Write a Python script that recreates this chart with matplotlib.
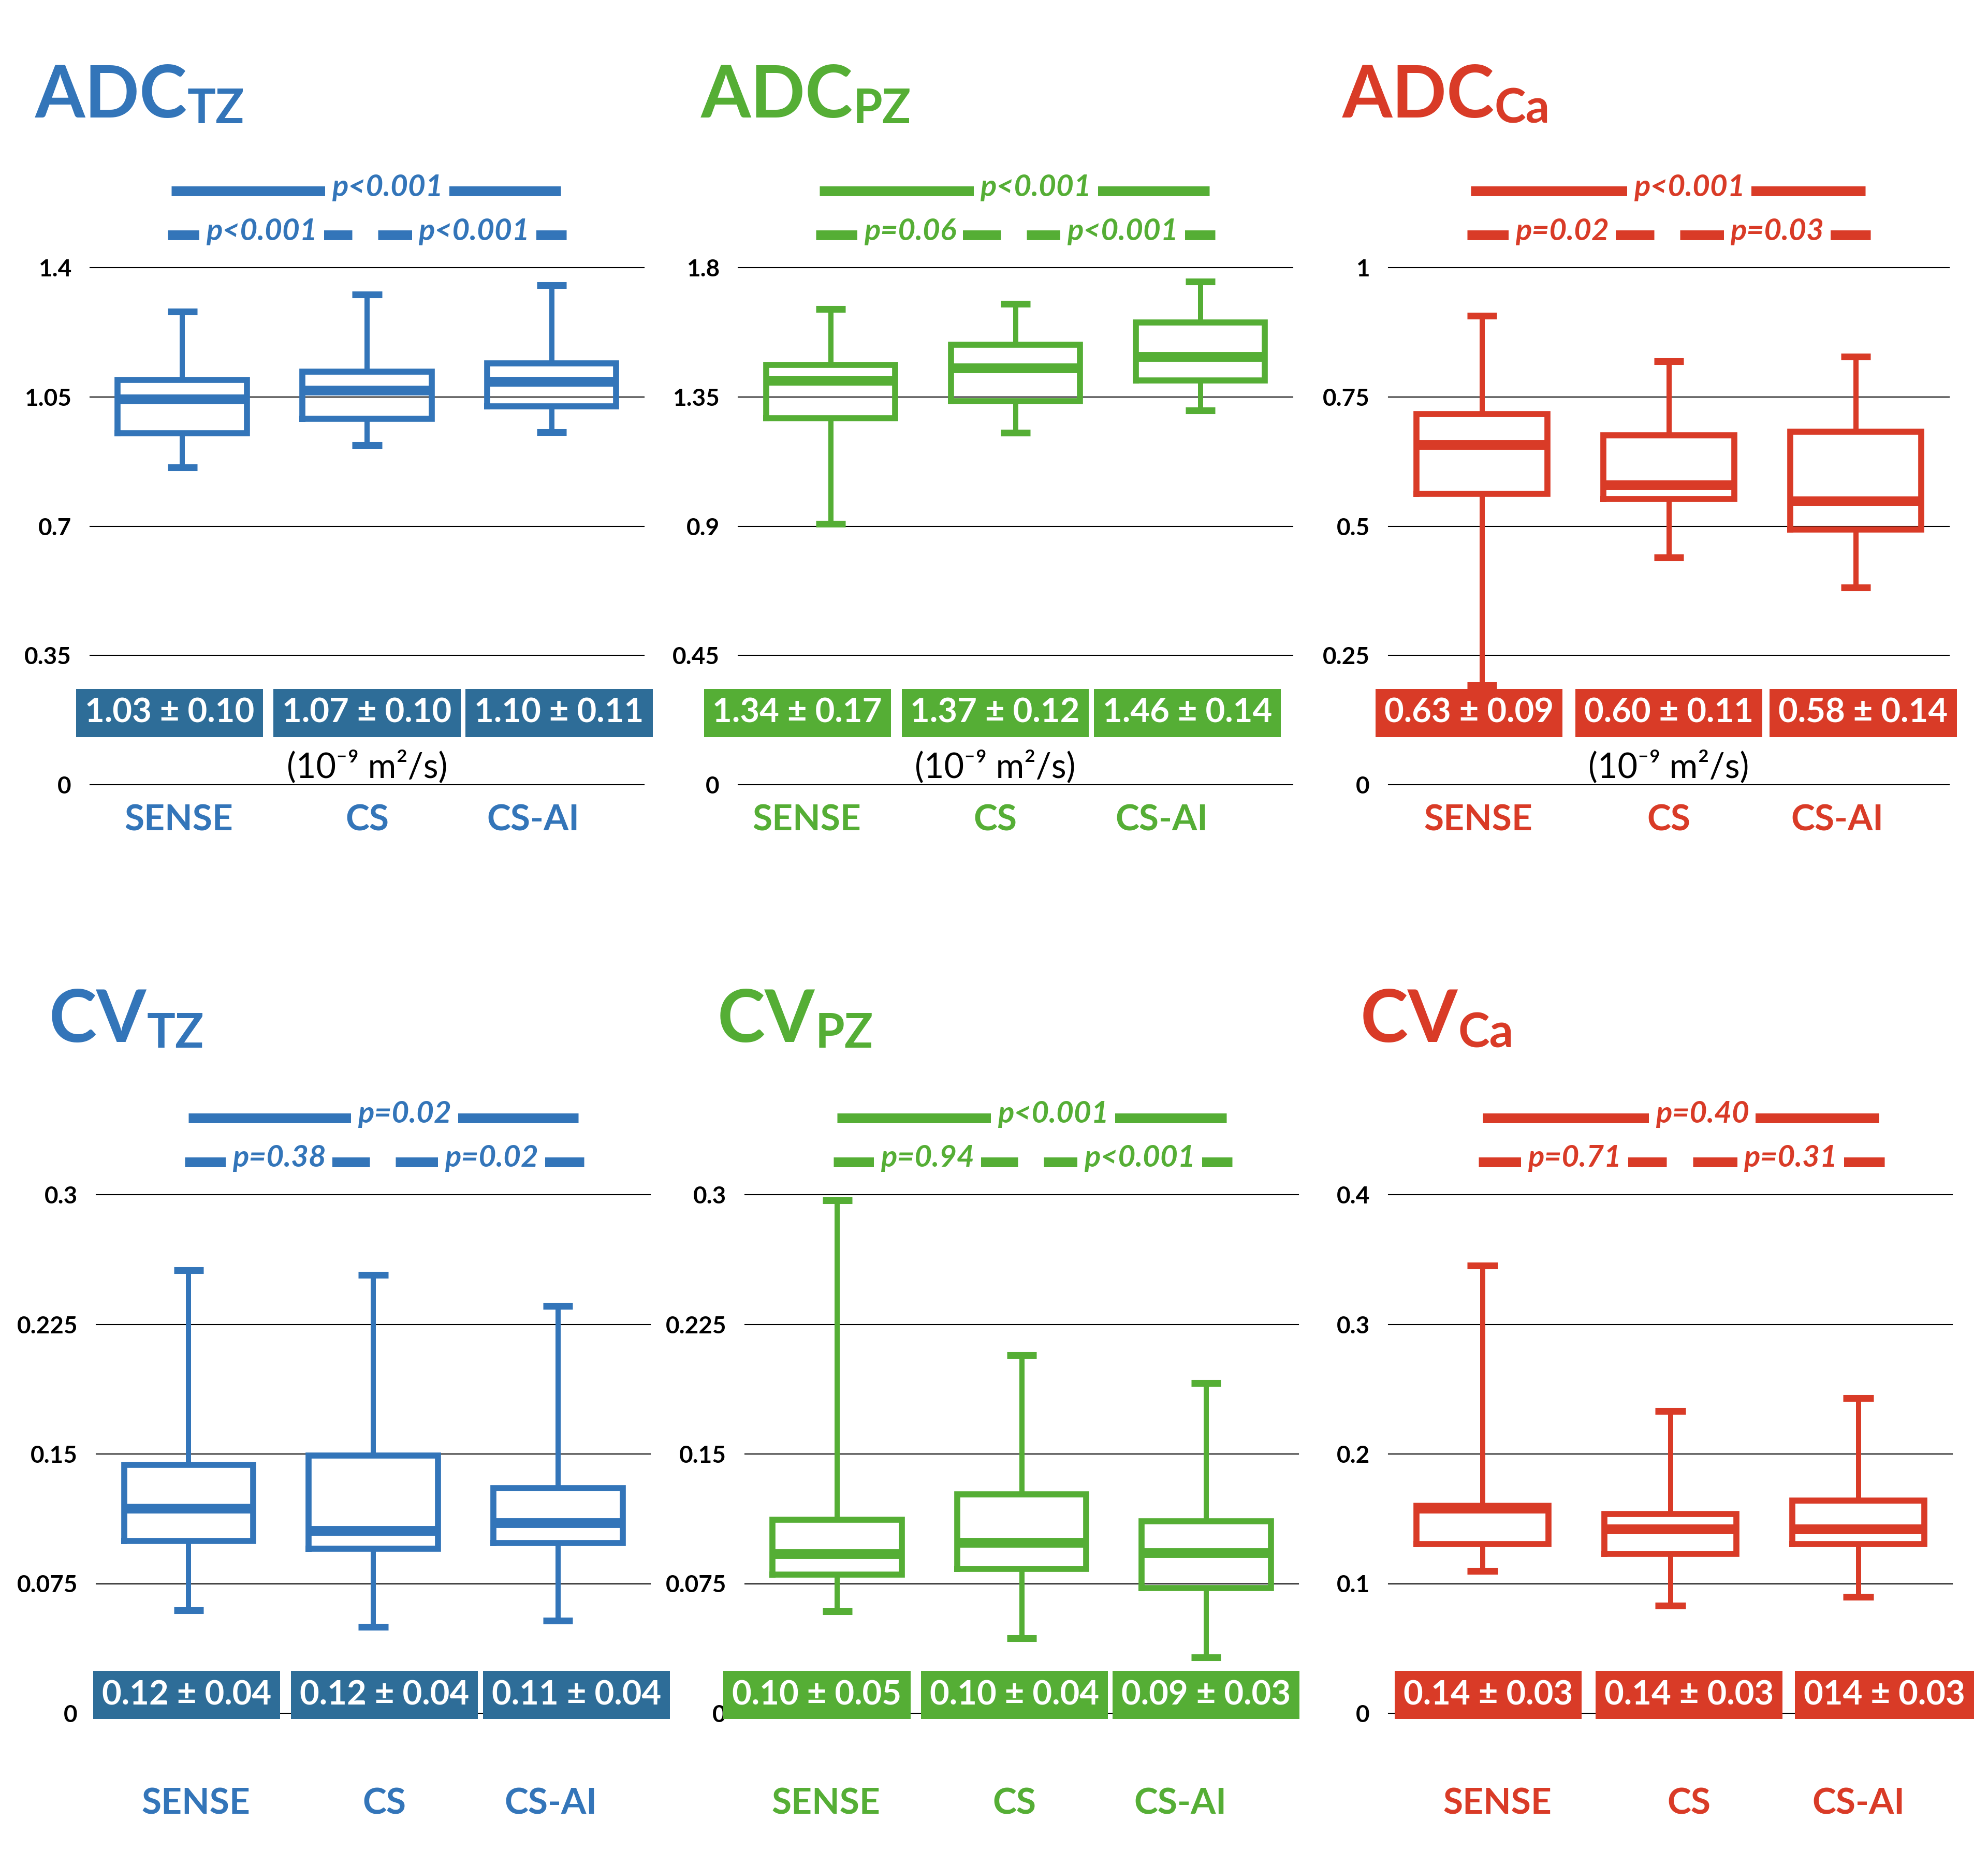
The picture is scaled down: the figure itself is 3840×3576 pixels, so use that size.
import matplotlib
matplotlib.use('agg')
import matplotlib.pyplot as plt
import matplotlib.transforms as mtransforms

plt.rcParams['font.family'] = ['Lato', 'DejaVu Sans']

BLUE = '#3375B9'
BLUE_DARK = '#2E6D98'
GREEN = '#55AE35'
RED = '#D93B27'

groups = ['SENSE', 'CS', 'CS-AI']

# lower whisker, q1, median, q3, upper whisker for SENSE / CS / CS-AI
adc_tz = [[0.859, 0.951, 1.044, 1.096, 1.281],
          [0.919, 0.991, 1.068, 1.119, 1.327],
          [0.954, 1.024, 1.091, 1.141, 1.353]]
adc_pz = [[0.908, 1.275, 1.408, 1.462, 1.656],
          [1.226, 1.335, 1.451, 1.531, 1.673],
          [1.302, 1.408, 1.490, 1.609, 1.751]]
adc_ca = [[0.192, 0.563, 0.658, 0.717, 0.907],
          [0.439, 0.553, 0.580, 0.676, 0.819],
          [0.381, 0.493, 0.549, 0.683, 0.828]]
cv_tz = [[0.0595, 0.0996, 0.1186, 0.1437, 0.2562],
         [0.0500, 0.0951, 0.1057, 0.1492, 0.2535],
         [0.0537, 0.0985, 0.1101, 0.1301, 0.2355]]
cv_pz = [[0.0591, 0.0802, 0.0921, 0.1121, 0.2966],
         [0.0435, 0.0836, 0.0989, 0.1267, 0.2073],
         [0.0323, 0.0724, 0.0928, 0.1111, 0.1910]]
cv_ca = [[0.1096, 0.1305, 0.158, 0.160, 0.3452],
         [0.0829, 0.1228, 0.1422, 0.1536, 0.2333],
         [0.0897, 0.1305, 0.1422, 0.1640, 0.2433]]

adc_tz_ticks = [0, 0.35, 0.7, 1.05, 1.4]
adc_pz_ticks = [0, 0.45, 0.9, 1.35, 1.8]
adc_ca_ticks = [0, 0.25, 0.5, 0.75, 1]
cv_tz_ticks = [0, 0.075, 0.15, 0.225, 0.3]
cv_pz_ticks = [0, 0.075, 0.15, 0.225, 0.3]
cv_ca_ticks = [0, 0.1, 0.2, 0.3, 0.4]

# mean ± sd labels
adc_tz_mean = ['1.03 ± 0.10', '1.07 ± 0.10', '1.10 ± 0.11']
adc_pz_mean = ['1.34 ± 0.17', '1.37 ± 0.12', '1.46 ± 0.14']
adc_ca_mean = ['0.63 ± 0.09', '0.60 ± 0.11', '0.58 ± 0.14']
cv_tz_mean = ['0.12 ± 0.04', '0.12 ± 0.04', '0.11 ± 0.04']
cv_pz_mean = ['0.10 ± 0.05', '0.10 ± 0.04', '0.09 ± 0.03']
cv_ca_mean = ['0.14 ± 0.03', '0.14 ± 0.03', '014 ± 0.03']

# overall, SENSE vs CS, CS vs CS-AI
adc_tz_p = ['p<0.001', 'p<0.001', 'p<0.001']
adc_pz_p = ['p<0.001', 'p=0.06', 'p<0.001']
adc_ca_p = ['p<0.001', 'p=0.02', 'p=0.03']
cv_tz_p = ['p=0.02', 'p=0.38', 'p=0.02']
cv_pz_p = ['p<0.001', 'p=0.94', 'p<0.001']
cv_ca_p = ['p=0.40', 'p=0.71', 'p=0.31']

panels = [
    ('ADC', 'TZ', adc_tz, adc_tz_ticks, adc_tz_mean, adc_tz_p, BLUE, BLUE_DARK),
    ('ADC', 'PZ', adc_pz, adc_pz_ticks, adc_pz_mean, adc_pz_p, GREEN, GREEN),
    ('ADC', 'Ca', adc_ca, adc_ca_ticks, adc_ca_mean, adc_ca_p, RED, RED),
    ('CV', 'TZ', cv_tz, cv_tz_ticks, cv_tz_mean, cv_tz_p, BLUE, BLUE_DARK),
    ('CV', 'PZ', cv_pz, cv_pz_ticks, cv_pz_mean, cv_pz_p, GREEN, GREEN),
    ('CV', 'Ca', cv_ca, cv_ca_ticks, cv_ca_mean, cv_ca_p, RED, RED),
]

# layout in pixels of the 3840x3576 canvas
W, H, DPI = 3840, 3576, 200
axes_px = [(174, 517, 1244, 1516), (1426, 517, 2497, 1516), (2682, 517, 3765, 1516),
           (186, 2308, 1256, 3310), (1439, 2308, 2508, 3310), (2682, 2308, 3771, 3310)]
title_px = [(68, 227), (1354, 227), (2593, 227), (95, 2013), (1386, 2013), (2628, 2013)]
text_shift = [0, -0.11, 0, 0.06, -0.04, 0.1]

fig = plt.figure(figsize=(W / DPI, H / DPI), dpi=DPI)

for i, (name, sub, boxes, ticks, means, pvals, col, statcol) in enumerate(panels):
    l, t, r, b = axes_px[i]
    ax = fig.add_axes([l / W, 1 - b / H, (r - l) / W, (b - t) / H])
    top_row = i < 3
    shift = text_shift[i]
    bar_shift = 0 if top_row else 0.06

    ax.set_xlim(-0.5, 2.5)
    ax.set_ylim(0, ticks[-1])
    ax.set_xticks([])
    ax.set_yticks(ticks)
    ax.set_yticklabels([f'{v:g}' for v in ticks], fontweight='bold', fontsize=16.5)
    ax.tick_params(axis='y', length=0, pad=13)
    for s in ax.spines.values():
        s.set_visible(False)
    for v in ticks:
        ax.axhline(v, color='black', lw=0.75, zorder=0, clip_on=False)

    stats = [dict(whislo=q[0], q1=q[1], med=q[2], q3=q[3], whishi=q[4], fliers=[])
             for q in boxes]
    ax.bxp(stats, positions=[0, 1, 2], widths=0.7, capwidths=0.16, showfliers=False,
           manage_ticks=False,
           boxprops=dict(color=col, lw=4.2, solid_joinstyle='miter', solid_capstyle='projecting'),
           medianprops=dict(color=col, lw=6.8, solid_capstyle='butt'),
           whiskerprops=dict(color=col, lw=3.6, solid_capstyle='butt'),
           capprops=dict(color=col, lw=4.7, solid_capstyle='butt'))

    trans = mtransforms.blended_transform_factory(ax.transData, ax.transAxes)

    # significance bars
    bars = [(-0.06, 2.05, 1.11, 1.148), (-0.08, 0.92, 0.43, 1.063), (1.06, 2.08, 1.58, 1.063)]
    for (x0, x1, xt, y), txt in zip(bars, pvals):
        ax.plot([x0 + bar_shift, x1 + bar_shift], [y, y], transform=trans, color=col,
                lw=6.8, solid_capstyle='butt', clip_on=False)
        ax.annotate(txt, xy=(xt + bar_shift, y), xycoords=trans, xytext=(0, -3.4),
                    textcoords='offset points', ha='center', va='baseline',
                    fontsize=21, fontweight='bold', fontstyle='italic', color=col,
                    bbox=dict(boxstyle='square,pad=0.22', fc='white', ec='none'),
                    annotation_clip=False)

    # mean ± sd boxes
    stat_y = 0.139 if top_row else 0.035
    for x, s in zip([-0.07, 1.0, 2.04], means):
        ax.text(x + shift, stat_y, s, transform=trans, ha='center', va='center',
                fontsize=23.5, fontweight='bold', color='white', zorder=5,
                bbox=dict(boxstyle='square,pad=0.26', fc=statcol, ec='none'))

    # group labels
    lab_y = -0.089 if top_row else -0.194
    for x, g in zip([-0.02, 1.0, 1.9], groups):
        ax.text(x + shift, lab_y, g, transform=trans, ha='center', va='baseline',
                fontsize=25, fontweight='bold', color=col)

    if top_row:
        ax.text(1.0 + shift, 0.014, '(10⁻⁹ m²/s)', transform=trans, ha='center',
                va='baseline', fontsize=24, color='black')

    # title with subscript
    tx, ty = title_px[i]
    tt = fig.text(tx / W, 1 - ty / H, name, fontsize=50, fontweight='bold', color=col,
                  ha='left', va='baseline')
    ax.annotate(sub, xy=(1, 0), xycoords=tt, xytext=(0, -4), textcoords='offset pixels',
                fontsize=33, fontweight='bold', color=col, ha='left', va='bottom',
                annotation_clip=False)

fig.savefig('out.png', dpi=DPI, facecolor='white')
